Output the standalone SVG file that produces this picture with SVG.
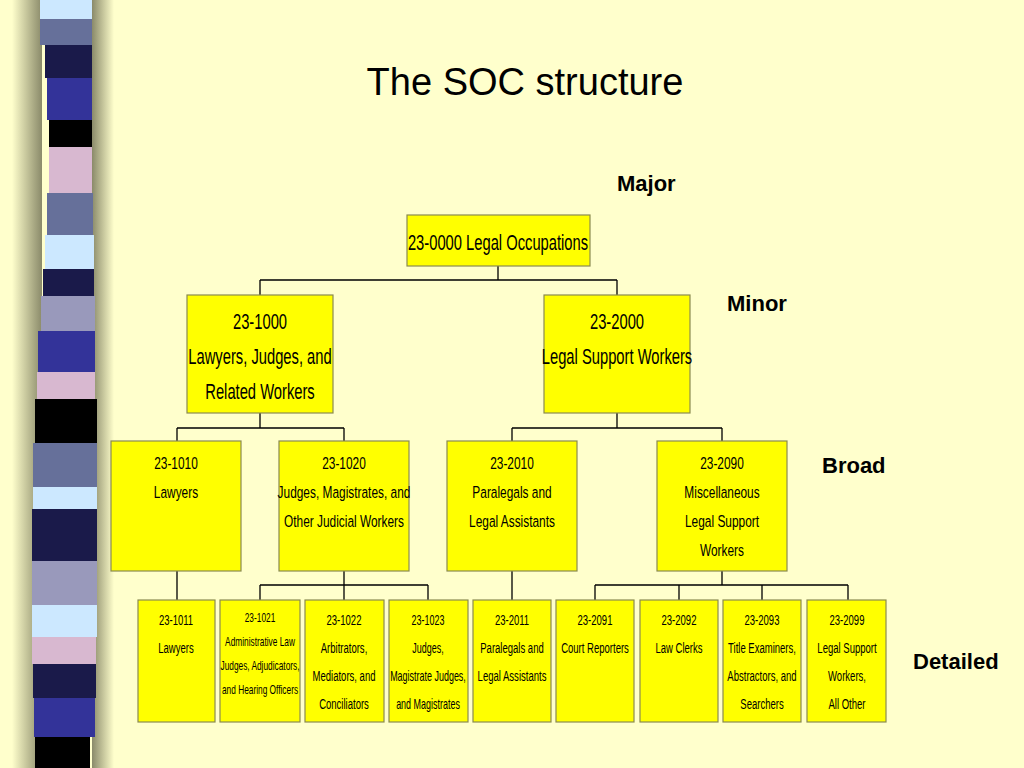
<svg xmlns="http://www.w3.org/2000/svg" width="1024" height="768" viewBox="0 0 1024 768">
<defs>
<linearGradient id="sh" x1="0" x2="1" y1="0" y2="0">
<stop offset="0" stop-color="#FFFFCC"/><stop offset="0.6" stop-color="#B8B890"/><stop offset="1" stop-color="#8A8A6A"/>
</linearGradient>
<linearGradient id="sh2" x1="0" x2="1" y1="0" y2="0">
<stop offset="0" stop-color="#8A8A6A"/><stop offset="1" stop-color="#FFFFCC"/>
</linearGradient>
</defs>
<style>
.b{fill:#FFFF00;stroke:#8A8A50;stroke-width:1.2}
.t{font-family:"Liberation Sans",Arial,sans-serif;text-anchor:middle;fill:#000}
.l{stroke:#000;stroke-width:1.3;fill:none}
.lab{font-family:"Liberation Sans",Arial,sans-serif;font-weight:bold;font-size:22px;fill:#000}
</style>
<rect width="1024" height="768" fill="#FFFFCC"/>
<g id="stripe">
<rect x="12" y="0" width="30" height="768" fill="url(#sh)"/>
<rect x="92" y="0" width="22" height="768" fill="url(#sh2)"/>
<rect x="40" y="0" width="52" height="19" fill="#CCE8FF"/>
<rect x="40" y="19" width="52" height="26" fill="#66709A"/>
<rect x="45" y="45" width="47" height="33" fill="#1A1A4A"/>
<rect x="47" y="78" width="45" height="42" fill="#333399"/>
<rect x="49" y="120" width="43" height="27" fill="#000"/>
<rect x="49" y="147" width="43" height="46" fill="#D8B8D0"/>
<rect x="47" y="193" width="46" height="42" fill="#66709A"/>
<rect x="45" y="235" width="49" height="34" fill="#CCE8FF"/>
<rect x="43" y="269" width="51" height="27" fill="#1A1A4A"/>
<rect x="41" y="296" width="54" height="35" fill="#9999BB"/>
<rect x="38" y="331" width="57" height="41" fill="#333399"/>
<rect x="37" y="372" width="58" height="27" fill="#D8B8D0"/>
<rect x="35" y="399" width="62" height="44" fill="#000"/>
<rect x="33" y="443" width="64" height="44" fill="#66709A"/>
<rect x="33" y="487" width="64" height="22" fill="#CCE8FF"/>
<rect x="32" y="509" width="65" height="52" fill="#1A1A4A"/>
<rect x="32" y="561" width="65" height="44" fill="#9999BB"/>
<rect x="32" y="605" width="65" height="32" fill="#CCE8FF"/>
<rect x="32" y="637" width="64" height="27" fill="#D8B8D0"/>
<rect x="33" y="664" width="63" height="34" fill="#1A1A4A"/>
<rect x="34" y="698" width="61" height="39" fill="#333399"/>
<rect x="35" y="737" width="55" height="31" fill="#000"/>
</g>
<text x="525" y="95" font-family="Liberation Sans,Arial,sans-serif" font-size="38" text-anchor="middle">The SOC structure</text>
<text class="lab" x="617" y="191">Major</text>
<text class="lab" x="727" y="311">Minor</text>
<text class="lab" x="822" y="473">Broad</text>
<text class="lab" x="913" y="669" font-size="23">Detailed</text>
<g id="connectors">
<path class="l" d="M498,266V280M260,280H617M260,280V295M617,280V295"/>
<path class="l" d="M260,413V428M177,428H344M177,428V441M344,428V441"/>
<path class="l" d="M617,413V428M512,428H722M512,428V441M722,428V441"/>
<path class="l" d="M177,571V600M512,571V600"/>
<path class="l" d="M344,571V585M260,585H428M260,585V600M344,585V600M428,585V600"/>
<path class="l" d="M722,571V585M595,585H848M595,585V600M679,585V600M762,585V600M848,585V600"/>
</g>
<g id="n0"><rect class="b" x="407" y="215" width="183" height="51"/><text class="t" transform="translate(498 0) scale(0.67 1)" x="0" y="250" font-size="22">23-0000 Legal Occupations</text></g>
<g id="n1"><rect class="b" x="187" y="295" width="146" height="118"/><text class="t" font-size="22" transform="translate(260 0) scale(0.67 1)"><tspan x="0" y="329">23-1000</tspan><tspan x="0" y="364">Lawyers, Judges, and</tspan><tspan x="0" y="399">Related Workers</tspan></text></g>
<g id="n2"><rect class="b" x="544" y="295" width="146" height="118"/><text class="t" font-size="22" transform="translate(617 0) scale(0.67 1)"><tspan x="0" y="329">23-2000</tspan><tspan x="0" y="364">Legal Support Workers</tspan></text></g>
<g id="n3"><rect class="b" x="111" y="441" width="130" height="130"/><text class="t" font-size="17" transform="translate(176 0) scale(0.7 1)"><tspan x="0" y="469">23-1010</tspan><tspan x="0" y="498">Lawyers</tspan></text></g>
<g id="n4"><rect class="b" x="279" y="441" width="130" height="130"/><text class="t" font-size="17" transform="translate(344 0) scale(0.7 1)"><tspan x="0" y="469">23-1020</tspan><tspan x="0" y="498">Judges, Magistrates, and</tspan><tspan x="0" y="527">Other Judicial Workers</tspan></text></g>
<g id="n5"><rect class="b" x="447" y="441" width="130" height="130"/><text class="t" font-size="17" transform="translate(512 0) scale(0.7 1)"><tspan x="0" y="469">23-2010</tspan><tspan x="0" y="498">Paralegals and</tspan><tspan x="0" y="527">Legal Assistants</tspan></text></g>
<g id="n6"><rect class="b" x="657" y="441" width="130" height="130"/><text class="t" font-size="17" transform="translate(722 0) scale(0.7 1)"><tspan x="0" y="469">23-2090</tspan><tspan x="0" y="498">Miscellaneous</tspan><tspan x="0" y="527">Legal Support</tspan><tspan x="0" y="556">Workers</tspan></text></g>
<g id="d1"><rect class="b" x="138" y="600" width="77" height="122"/><text class="t" font-size="14" transform="translate(176 0) scale(0.68 1)"><tspan x="0" y="625">23-1011</tspan><tspan x="0" y="653">Lawyers</tspan></text></g>
<g id="d2"><rect class="b" x="220" y="600" width="80" height="122"/><text class="t" font-size="13" transform="translate(260 0) scale(0.64 1)"><tspan x="0" y="622">23-1021</tspan><tspan x="0" y="646">Administrative Law</tspan><tspan x="0" y="670">Judges, Adjudicators,</tspan><tspan x="0" y="694">and Hearing Officers</tspan></text></g>
<g id="d3"><rect class="b" x="305" y="600" width="79" height="122"/><text class="t" font-size="14" transform="translate(344 0) scale(0.68 1)"><tspan x="0" y="625">23-1022</tspan><tspan x="0" y="653">Arbitrators,</tspan><tspan x="0" y="681">Mediators, and</tspan><tspan x="0" y="709">Conciliators</tspan></text></g>
<g id="d4"><rect class="b" x="389" y="600" width="79" height="122"/><text class="t" font-size="14" transform="translate(428 0) scale(0.64 1)"><tspan x="0" y="625">23-1023</tspan><tspan x="0" y="653">Judges,</tspan><tspan x="0" y="681">Magistrate Judges,</tspan><tspan x="0" y="709">and Magistrates</tspan></text></g>
<g id="d5"><rect class="b" x="473" y="600" width="78" height="122"/><text class="t" font-size="14" transform="translate(512 0) scale(0.68 1)"><tspan x="0" y="625">23-2011</tspan><tspan x="0" y="653">Paralegals and</tspan><tspan x="0" y="681">Legal Assistants</tspan></text></g>
<g id="d6"><rect class="b" x="556" y="600" width="78" height="122"/><text class="t" font-size="14" transform="translate(595 0) scale(0.68 1)"><tspan x="0" y="625">23-2091</tspan><tspan x="0" y="653">Court Reporters</tspan></text></g>
<g id="d7"><rect class="b" x="640" y="600" width="78" height="122"/><text class="t" font-size="14" transform="translate(679 0) scale(0.68 1)"><tspan x="0" y="625">23-2092</tspan><tspan x="0" y="653">Law Clerks</tspan></text></g>
<g id="d8"><rect class="b" x="723" y="600" width="78" height="122"/><text class="t" font-size="14" transform="translate(762 0) scale(0.68 1)"><tspan x="0" y="625">23-2093</tspan><tspan x="0" y="653">Title Examiners,</tspan><tspan x="0" y="681">Abstractors, and</tspan><tspan x="0" y="709">Searchers</tspan></text></g>
<g id="d9"><rect class="b" x="807" y="600" width="79" height="122"/><text class="t" font-size="14" transform="translate(847 0) scale(0.68 1)"><tspan x="0" y="625">23-2099</tspan><tspan x="0" y="653">Legal Support</tspan><tspan x="0" y="681">Workers,</tspan><tspan x="0" y="709">All Other</tspan></text></g>
</svg>
